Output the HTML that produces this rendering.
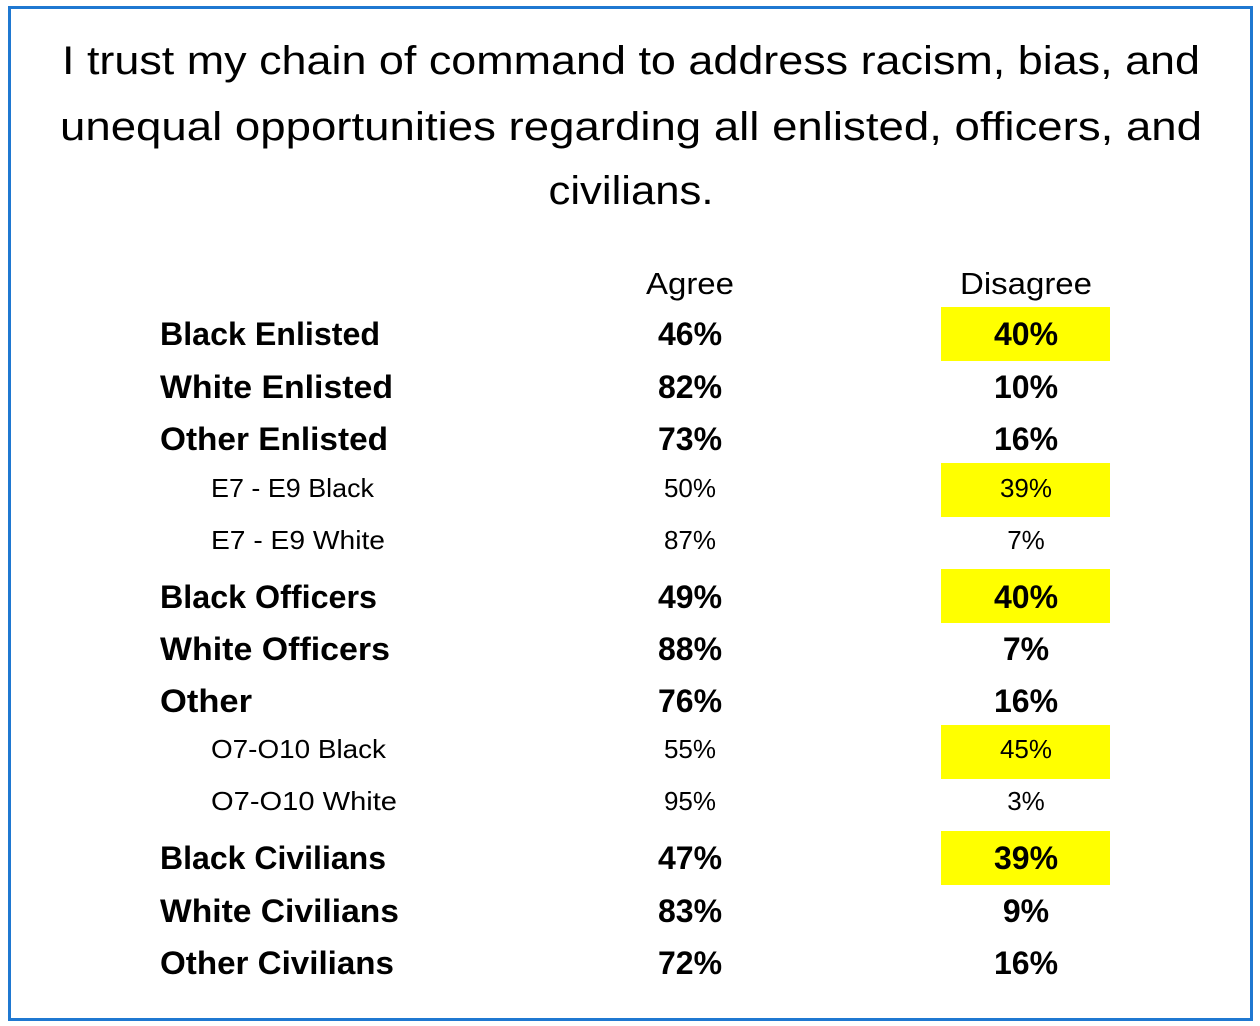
<!DOCTYPE html>
<html><head><meta charset="utf-8"><style>
html,body{margin:0;padding:0;background:#fff;}
svg{display:block;}
text{font-family:"Liberation Sans",sans-serif;fill:#000;}
.b{font-weight:bold;font-size:32px;}
.s{font-size:26px;}
</style></head><body>
<svg width="1260" height="1026" viewBox="0 0 1260 1026" xmlns="http://www.w3.org/2000/svg">
<rect x="0" y="0" width="1260" height="1026" fill="#fff"/>
<rect x="9.5" y="7.5" width="1242" height="1012" fill="none" stroke="#1f78d1" stroke-width="3"/>
<g font-size="40">
<text x="631" y="74" text-anchor="middle" textLength="1138" lengthAdjust="spacingAndGlyphs">I trust my chain of command to address racism, bias, and</text>
<text x="631" y="140" text-anchor="middle" textLength="1142" lengthAdjust="spacingAndGlyphs">unequal opportunities regarding all enlisted, officers, and</text>
<text x="631" y="204" text-anchor="middle" textLength="165" lengthAdjust="spacingAndGlyphs">civilians.</text>
</g>
<g font-size="31" text-anchor="middle">
<text x="690" y="294" textLength="88" lengthAdjust="spacingAndGlyphs">Agree</text>
<text x="1026" y="294" textLength="132" lengthAdjust="spacingAndGlyphs">Disagree</text>
</g>
<g fill="#ffff00">
<rect x="941" y="307" width="169" height="54"/>
<rect x="941" y="463" width="169" height="54"/>
<rect x="941" y="569" width="169" height="54"/>
<rect x="941" y="725" width="169" height="54"/>
<rect x="941" y="831" width="169" height="54"/>
</g>
<g class="b">
<text x="160" y="345" textLength="220" lengthAdjust="spacingAndGlyphs">Black Enlisted</text>
<text x="160" y="398" textLength="233" lengthAdjust="spacingAndGlyphs">White Enlisted</text>
<text x="160" y="450" textLength="228" lengthAdjust="spacingAndGlyphs">Other Enlisted</text>
<text x="160" y="608" textLength="217" lengthAdjust="spacingAndGlyphs">Black Officers</text>
<text x="160" y="660" textLength="230" lengthAdjust="spacingAndGlyphs">White Officers</text>
<text x="160" y="712" textLength="92" lengthAdjust="spacingAndGlyphs">Other</text>
<text x="160" y="869" textLength="226" lengthAdjust="spacingAndGlyphs">Black Civilians</text>
<text x="160" y="922" textLength="239" lengthAdjust="spacingAndGlyphs">White Civilians</text>
<text x="160" y="974" textLength="234" lengthAdjust="spacingAndGlyphs">Other Civilians</text>
</g>
<g class="s">
<text x="211" y="497" textLength="163" lengthAdjust="spacingAndGlyphs">E7 - E9 Black</text>
<text x="211" y="549" textLength="174" lengthAdjust="spacingAndGlyphs">E7 - E9 White</text>
<text x="211" y="758" textLength="175" lengthAdjust="spacingAndGlyphs">O7-O10 Black</text>
<text x="211" y="810" textLength="186" lengthAdjust="spacingAndGlyphs">O7-O10 White</text>
</g>
<g class="b" text-anchor="middle">
<text x="690" y="345">46%</text><text x="1026" y="345">40%</text>
<text x="690" y="398">82%</text><text x="1026" y="398">10%</text>
<text x="690" y="450">73%</text><text x="1026" y="450">16%</text>
<text x="690" y="608">49%</text><text x="1026" y="608">40%</text>
<text x="690" y="660">88%</text><text x="1026" y="660">7%</text>
<text x="690" y="712">76%</text><text x="1026" y="712">16%</text>
<text x="690" y="869">47%</text><text x="1026" y="869">39%</text>
<text x="690" y="922">83%</text><text x="1026" y="922">9%</text>
<text x="690" y="974">72%</text><text x="1026" y="974">16%</text>
</g>
<g class="s" text-anchor="middle">
<text x="690" y="497">50%</text><text x="1026" y="497">39%</text>
<text x="690" y="549">87%</text><text x="1026" y="549">7%</text>
<text x="690" y="758">55%</text><text x="1026" y="758">45%</text>
<text x="690" y="810">95%</text><text x="1026" y="810">3%</text>
</g>
</svg>
</body></html>
